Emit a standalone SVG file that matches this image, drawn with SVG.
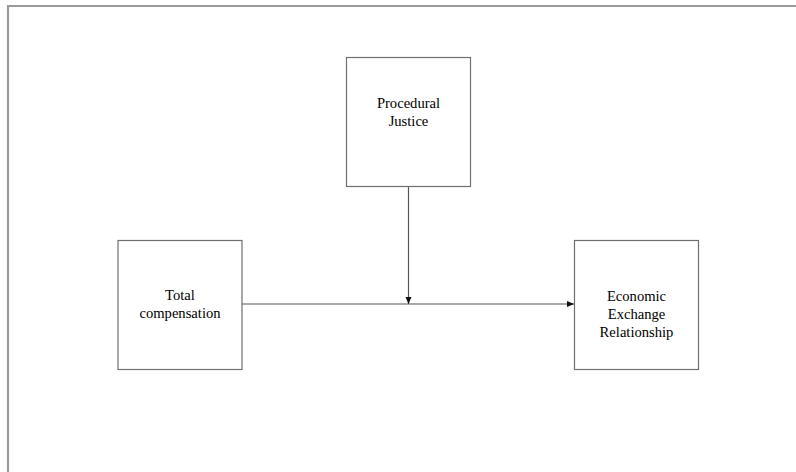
<svg xmlns="http://www.w3.org/2000/svg" width="796" height="472" viewBox="0 0 796 472">
<style>
.box{fill:#fff;stroke:#6f6f6f;stroke-width:1.2}
.lbl{font-family:"Liberation Serif","Times New Roman",serif;font-size:14.6px;fill:#000;text-anchor:middle}
.conn{stroke:#555;stroke-width:1.2;fill:none}
</style>
<defs>
<marker id="ah" markerWidth="8" markerHeight="8" refX="7" refY="4" orient="auto" markerUnits="userSpaceOnUse">
<path d="M0,1 L7,4 L0,7 Z" fill="#111"/>
</marker>
</defs>
<rect x="0" y="0" width="796" height="472" fill="#fff"/>
<path d="M8,472 V6 H796" fill="none" stroke="#9a9a9a" stroke-width="2.2"/>
<g id="connectors">
<line class="conn" x1="242" y1="304" x2="574" y2="304" marker-end="url(#ah)"/>
<line class="conn" x1="408.5" y1="186" x2="408.5" y2="304" stroke="#222" marker-end="url(#ah)"/>
</g>
<g id="procedural-justice">
<rect class="box" x="346.5" y="57.5" width="124" height="129"/>
<text class="lbl" x="408.5" y="108">Procedural</text>
<text class="lbl" x="408.5" y="126">Justice</text>
</g>
<g id="total-compensation">
<rect class="box" x="118" y="240.5" width="124" height="129"/>
<text class="lbl" x="180" y="300">Total</text>
<text class="lbl" x="180" y="318">compensation</text>
</g>
<g id="economic-exchange">
<rect class="box" x="574.5" y="240.5" width="124" height="129"/>
<text class="lbl" x="636.5" y="301">Economic</text>
<text class="lbl" x="636.5" y="319">Exchange</text>
<text class="lbl" x="636.5" y="337">Relationship</text>
</g>
</svg>
